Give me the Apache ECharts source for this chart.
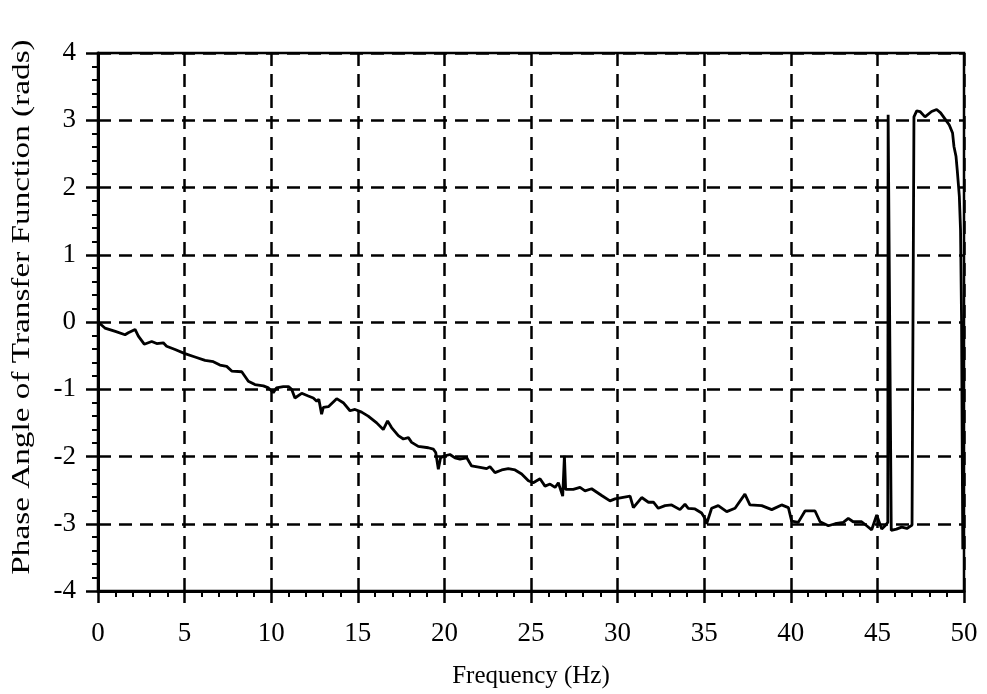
<!DOCTYPE html>
<html>
<head>
<meta charset="utf-8">
<script src="https://cdn.jsdelivr.net/npm/echarts@6/dist/echarts.min.js"></script>
<style>
html,body{margin:0;padding:0;background:#fff;}
#chart{width:987px;height:694px;}
</style>
</head>
<body>
<div id="chart"></div>
<script>
const freq = [0,0.4,1.0,1.56,1.75,2.14,2.33,2.67,3.1,3.39,3.77,3.96,4.45,5.02,5.6,6.18,6.66,7.04,7.43,7.72,8.3,8.68,9.06,9.55,9.84,10.12,10.3,10.7,11.0,11.18,11.37,11.76,12.14,12.43,12.63,12.75,12.91,13.01,13.3,13.78,14.16,14.55,14.84,15.22,15.6,16.09,16.47,16.72,16.95,17.34,17.63,17.92,18.11,18.49,19.07,19.36,19.5,19.65,19.78,20.03,20.32,20.61,20.9,21.29,21.57,22.06,22.44,22.63,22.92,23.31,23.69,24.08,24.46,24.85,25.13,25.52,25.81,26.1,26.39,26.58,26.83,26.93,27.0,27.44,27.83,28.12,28.5,29.08,29.56,29.85,30.24,30.72,30.91,31.39,31.78,32.07,32.35,32.74,33.12,33.6,33.89,34.08,34.47,34.85,35.04,35.14,35.43,35.81,36.3,36.78,37.35,37.64,38.32,38.9,39.47,39.86,40.05,40.43,40.82,41.4,41.69,42.17,42.56,43.03,43.32,43.6,44.09,44.38,44.67,44.96,45.25,45.44,45.6,45.62,45.7,45.8,46.1,46.4,46.7,47.0,47.08,47.11,47.27,47.46,47.75,48.13,48.42,48.65,48.9,49.15,49.34,49.42,49.54,49.61,49.73,49.8,49.86,49.9,49.93];
const phase = [0,-0.09,-0.14,-0.19,-0.16,-0.11,-0.21,-0.33,-0.29,-0.32,-0.31,-0.36,-0.41,-0.47,-0.52,-0.57,-0.59,-0.64,-0.66,-0.73,-0.74,-0.88,-0.93,-0.95,-0.98,-1.05,-0.98,-0.96,-0.96,-1.0,-1.13,-1.06,-1.10,-1.13,-1.18,-1.15,-1.37,-1.27,-1.26,-1.14,-1.2,-1.32,-1.30,-1.34,-1.40,-1.50,-1.60,-1.47,-1.57,-1.69,-1.74,-1.72,-1.79,-1.85,-1.87,-1.89,-1.94,-2.19,-2.02,-1.99,-1.97,-2.02,-2.04,-2.02,-2.14,-2.16,-2.18,-2.15,-2.24,-2.20,-2.18,-2.20,-2.26,-2.36,-2.39,-2.33,-2.44,-2.41,-2.46,-2.39,-2.59,-1.99,-2.49,-2.49,-2.46,-2.51,-2.48,-2.58,-2.66,-2.63,-2.61,-2.59,-2.76,-2.61,-2.68,-2.68,-2.77,-2.73,-2.72,-2.79,-2.71,-2.77,-2.78,-2.84,-2.92,-3.0,-2.77,-2.73,-2.82,-2.77,-2.56,-2.72,-2.73,-2.79,-2.72,-2.76,-2.96,-2.98,-2.81,-2.81,-2.97,-3.03,-3.0,-2.98,-2.92,-2.97,-2.97,-3.03,-3.09,-2.87,-3.08,-3.03,-2.98,3.08,3.06,-3.1,-3.08,-3.05,-3.07,-3.02,-3.0,3.05,3.14,3.13,3.05,3.13,3.16,3.11,3.02,2.93,2.81,2.61,2.46,2.26,1.87,1.37,0,-2.0,-3.38];
const xTicks = [0,5,10,15,20,25,30,35,40,45,50];
const yTicks = [-4,-3,-2,-1,0,1,2,3,4];
const xTitle = 'Frequency (Hz)';
const yTitle = 'Phase Angle of Transfer Function (rads)';

const FONT = 'Liberation Serif';
const chart = echarts.init(document.getElementById('chart'), null, {renderer:'canvas'});
const data = freq.map((f,i)=>[f, phase[i]]);
const dashed = {show:true, lineStyle:{color:'#000', width:2.5, type:[13,8]}};
chart.setOption({
  animation:false,
  backgroundColor:'#fff',
  grid:{left:98, top:53, width:866, height:539, show:true, borderColor:'#000', borderWidth:2.5, backgroundColor:'transparent'},
  xAxis:{
    type:'value', min:xTicks[0], max:xTicks[xTicks.length-1], interval:5,
    name:xTitle, nameLocation:'middle', nameGap:73,
    nameTextStyle:{fontFamily:FONT, fontSize:25, color:'#000'},
    axisLine:{show:true, onZero:false, lineStyle:{color:'#000', width:3}},
    axisTick:{show:true, length:12, lineStyle:{color:'#000', width:2.5}},
    minorTick:{show:true, splitNumber:5, length:6, lineStyle:{color:'#000', width:2}},
    axisLabel:{fontFamily:FONT, fontSize:27, color:'#000', margin:29},
    splitLine:dashed
  },
  yAxis:{
    type:'value', min:yTicks[0], max:yTicks[yTicks.length-1], interval:1,
    axisLine:{show:true, onZero:false, lineStyle:{color:'#000', width:3}},
    axisTick:{show:true, length:12, lineStyle:{color:'#000', width:2.5}},
    minorTick:{show:true, splitNumber:5, length:6, lineStyle:{color:'#000', width:2}},
    axisLabel:{fontFamily:FONT, fontSize:27, color:'#000', margin:22},
    splitLine:dashed
  },
  graphic:[{
    type:'text', x:22, y:307, rotation:Math.PI/2, scaleX:1.33, scaleY:1.05,
    style:{text:yTitle, fontFamily:FONT, fontSize:25, fill:'#000', align:'center', verticalAlign:'middle'}
  }],
  series:[{
    type:'line', data:data, showSymbol:false, symbol:'none',
    lineStyle:{color:'#000', width:2.8}, z:5
  }]
});
</script>
</body>
</html>
